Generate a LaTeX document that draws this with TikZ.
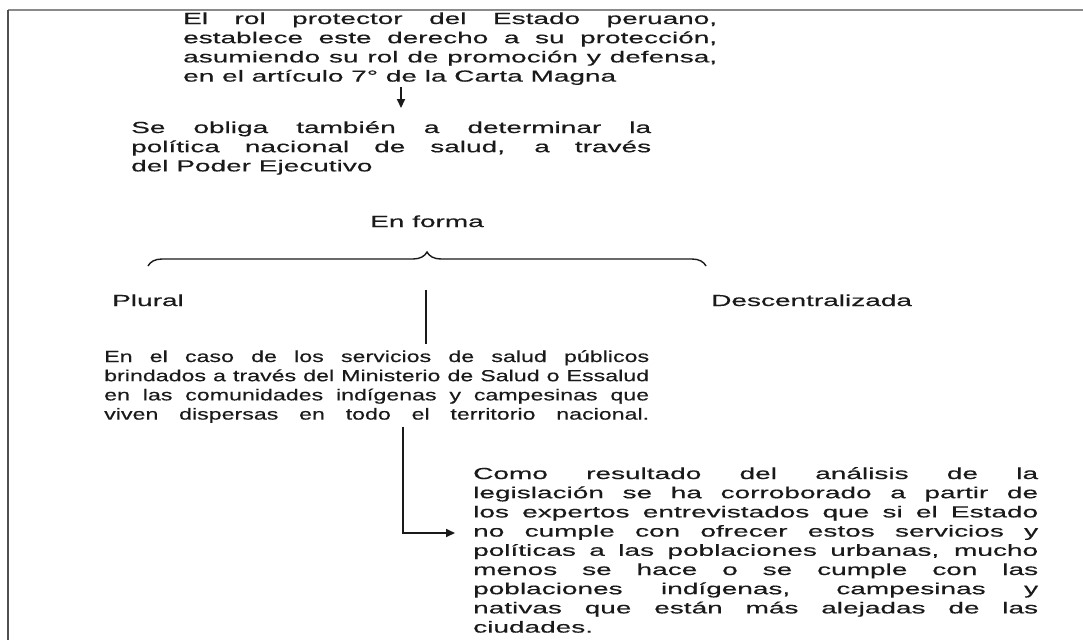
\documentclass[tikz,border=0pt]{standalone}
\usepackage{fontspec}
\setmainfont{Liberation Sans}[FakeStretch=1.75,FakeBold=0.35]
\newfontfamily\condensedfont{Liberation Sans}[FakeStretch=1.45,FakeBold=0.35]
\usetikzlibrary{arrows.meta,decorations.pathreplacing}

\definecolor{ink}{HTML}{1A1A1A}
\definecolor{frametop}{HTML}{8A8A8A}
\definecolor{frameleft}{HTML}{505050}

% one justified line of a fixed width, and a free last line
\newcommand\fullline[2]{\hbox to #1{#2}}
\newcommand\lastline[1]{\hbox{#1}}
% a paragraph whose baseline is the first line's baseline
\newcommand\para[1]{\vtop{\baselineskip=19.2pt\lineskiplimit=-20pt\relax #1}}
\newcommand\bodysize{\fontsize{16}{19.2}\selectfont}

\begin{document}
\begin{tikzpicture}[x=1pt,y=-1pt,
  txt/.style={inner sep=0pt, font=\bodysize, text=ink},
  link/.style={draw=ink, line width=1.7pt},
  arr/.style={link, -{Triangle[length=9pt,width=8pt]}},
  bracestyle/.style={draw=ink, line width=1.4pt, decorate,
    decoration={brace, amplitude=14pt}},
]
\useasboundingbox (0,0) rectangle (1083,640);
\fill[white] (0,0) rectangle (1083,640);

% frame
\draw[frametop, line width=2pt] (8,10) -- (1083,10);
\draw[frameleft, line width=2pt] (8,10) -- (8,640);

% text blocks
\node[txt, anchor=base west] (b1) at (183,24) {\para{%
\fullline{534pt}{El rol protector del Estado peruano,}
\fullline{534pt}{establece este derecho a su protección,}
\fullline{534pt}{asumiendo su rol de promoción y defensa,}
\lastline{en el artículo 7° de la Carta Magna}}};

\node[txt, anchor=base west] (b2) at (131,133) {\para{%
\fullline{520pt}{Se obliga también a determinar la}
\fullline{520pt}{política nacional de salud, a través}
\lastline{del Poder Ejecutivo}}};

\node[txt, anchor=base] (forma) at (427,227) {En forma};

\node[txt, anchor=base west] (plural) at (112,306) {Plural};
\node[txt, anchor=base west] (desc) at (711,306) {Descentralizada};

\node[txt, anchor=base west] (b3) at (104,362) {\condensedfont\para{%
\fullline{545pt}{En el caso de los servicios de salud públicos}
\fullline{545pt}{brindados a través del Ministerio de Salud o Essalud}
\fullline{545pt}{en las comunidades indígenas y campesinas que}
\fullline{545pt}{viven dispersas en todo el territorio nacional.}}};

\node[txt, anchor=base west] (b4) at (473,479) {\para{%
\fullline{565pt}{Como resultado del análisis de la}
\fullline{565pt}{legislación se ha corroborado a partir de}
\fullline{565pt}{los expertos entrevistados que si el Estado}
\fullline{565pt}{no cumple con ofrecer estos servicios y}
\fullline{565pt}{políticas a las poblaciones urbanas, mucho}
\fullline{565pt}{menos se hace o se cumple con las}
\fullline{565pt}{poblaciones indígenas, campesinas y}
\fullline{565pt}{nativas que están más alejadas de las}
\lastline{ciudades.}}};

% brace under "En forma"
\coordinate (bl) at (148,266);
\coordinate (br) at (706,266);
\draw[bracestyle] (bl) -- (br);

% connectors
\coordinate (ax) at (401,0);
\draw[arr, shorten <=2pt, shorten >=13pt] (b1.south -| ax) -- (b2.north -| ax);

\coordinate (vt) at (426,290);
\draw[link, shorten >=6pt] (vt) -- (b3.north -| vt);

\coordinate (elb) at (403,533);
\draw[arr, shorten <=4pt, shorten >=18pt] (b3.south -| elb) -- (elb) -- (elb -| b4.west);
\end{tikzpicture}
\end{document}
